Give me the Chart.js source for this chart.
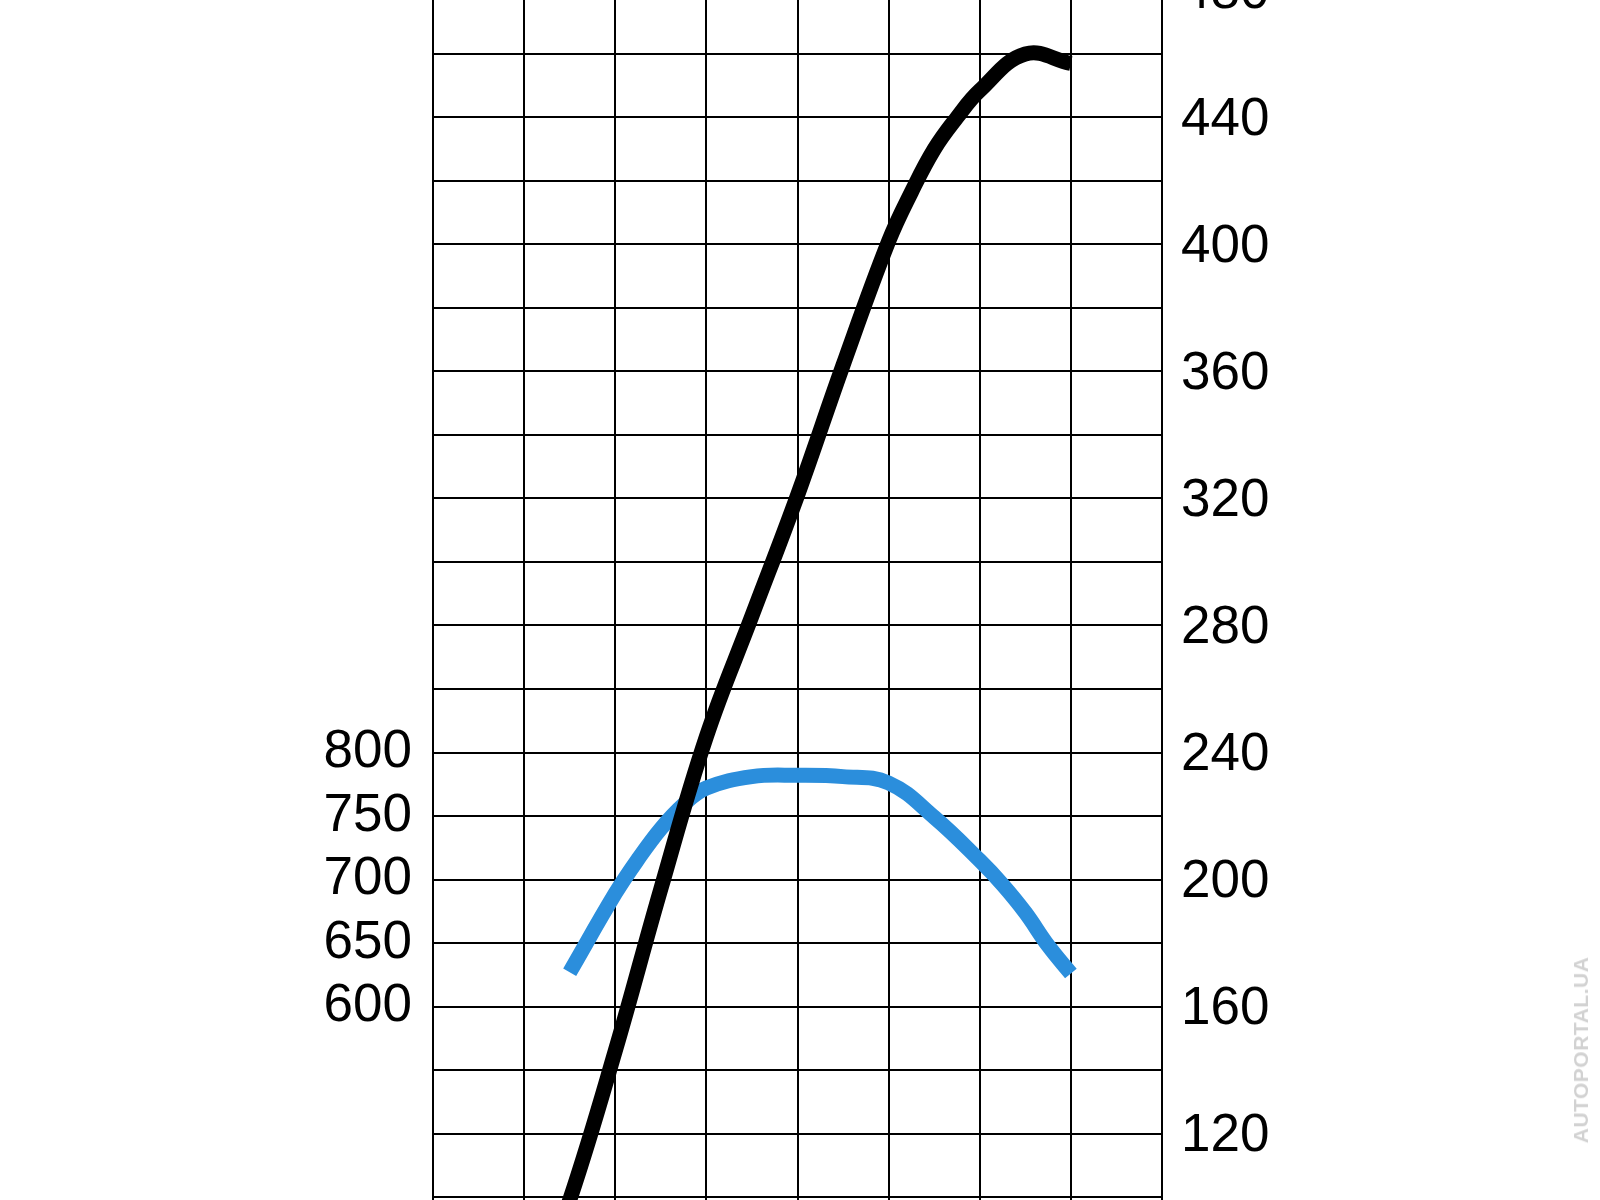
<!DOCTYPE html>
<html>
<head>
<meta charset="utf-8">
<script src="https://cdn.jsdelivr.net/npm/chart.js@4.4.1/dist/chart.umd.min.js"></script>
<style>
    body { margin: 0; background: #ffffff; }
    #wrap { position: relative; width: 1600px; height: 1200px; overflow: hidden; }
    #mark {
        position: absolute;
        left: 1581px;
        top: 1050px;
        transform: translate(-50%, -50%) rotate(-90deg);
        font: bold 21px "Liberation Sans", Arial, sans-serif;
        color: #d2d2d2;
        white-space: nowrap;
        letter-spacing: 0.5px;
    }
</style>
</head>
<body>
<div id="wrap">
    <canvas id="dyno" width="1600" height="1200"></canvas>
    <div id="mark">AUTOPORTAL.UA</div>
</div>
<script>
// engine speed, rpm
var rpm_power = [1500, 1750, 2000, 2250, 2500, 2750, 3000, 3250, 3500, 3625, 3750, 3875, 4000, 4250, 4500];
var power = [60, 99, 146, 197, 245, 283, 321, 362, 401, 416.5, 430, 440, 448.5, 460, 457];

var rpm_torque = [1750, 2000, 2125, 2250, 2375, 2500, 2750, 3000, 3250, 3500, 3750, 4000, 4125, 4250, 4375, 4500];
var torque = [627, 689, 716, 740, 759, 772, 781, 782, 781, 776, 749, 715, 696, 674, 648, 626];

var torque_ticks = [600, 650, 700, 750, 800];
var power_ticks = [100, 120, 140, 160, 180, 200, 220, 240, 260, 280, 300, 320, 340, 360, 380, 400, 420, 440, 460, 480];

function toPoints(xs, ys) {
    var pts = [];
    for (var i = 0; i < xs.length; i++) {
        pts.push({ x: xs[i], y: ys[i] });
    }
    return pts;
}

function setTicks(values) {
    return function(scale) {
        scale.ticks = values.map(function(v) { return { value: v }; });
    };
}

var labelFont = { family: "'Liberation Sans', Arial, sans-serif", size: 53 };

var data = {
    datasets: [{
        label: "Power",
        data: toPoints(rpm_power, power),
        yAxisID: "yPower",
        borderColor: "#000000",
        borderWidth: 15,
        borderCapStyle: "butt",
        tension: 0.4,
        pointRadius: 0,
        fill: false
    }, {
        label: "Torque",
        data: toPoints(rpm_torque, torque),
        yAxisID: "yTorque",
        borderColor: "#2b8edc",
        borderWidth: 15,
        borderCapStyle: "butt",
        tension: 0.4,
        pointRadius: 0,
        fill: false
    }]
};

var options = {
    responsive: false,
    animation: false,
    layout: { padding: 0 },
    plugins: {
        legend: { display: false },
        tooltip: { enabled: false }
    },
    scales: {
        x: {
            type: "linear",
            min: 1000,
            max: 5000,
            ticks: { display: false, stepSize: 500 },
            grid: { color: "#000000", lineWidth: 2, drawTicks: false },
            border: { display: false },
            afterFit: function(scale) {
                scale.height = 0;
                scale.paddingLeft = 0;
                scale.paddingRight = 0;
            }
        },
        yTorque: {
            type: "linear",
            position: "left",
            min: 447.65,
            max: 1392.5,
            afterBuildTicks: setTicks(torque_ticks),
            ticks: {
                autoSkip: false,
                color: "#000000",
                font: labelFont,
                padding: 21
            },
            grid: { drawOnChartArea: false, drawTicks: false },
            border: { display: true, color: "#000000", width: 2 },
            afterFit: function(scale) {
                scale.width = 433;
                scale.paddingTop = 0;
                scale.paddingBottom = 0;
            }
        },
        yPower: {
            type: "linear",
            position: "right",
            min: 99.06,
            max: 477,
            afterBuildTicks: setTicks(power_ticks),
            ticks: {
                autoSkip: false,
                color: "#000000",
                font: labelFont,
                padding: 19,
                labelOffset: 3,
                callback: function(val) {
                    return val % 40 === 0 ? val : "";
                }
            },
            grid: { color: "#000000", lineWidth: 2, drawTicks: false },
            border: { display: true, color: "#000000", width: 2 },
            afterFit: function(scale) {
                scale.width = 438;
                scale.paddingTop = 0;
                scale.paddingBottom = 0;
            }
        }
    }
};

var chart = new Chart(document.getElementById("dyno").getContext("2d"), {
    type: "line",
    data: data,
    options: options
});
</script>
</body>
</html>
